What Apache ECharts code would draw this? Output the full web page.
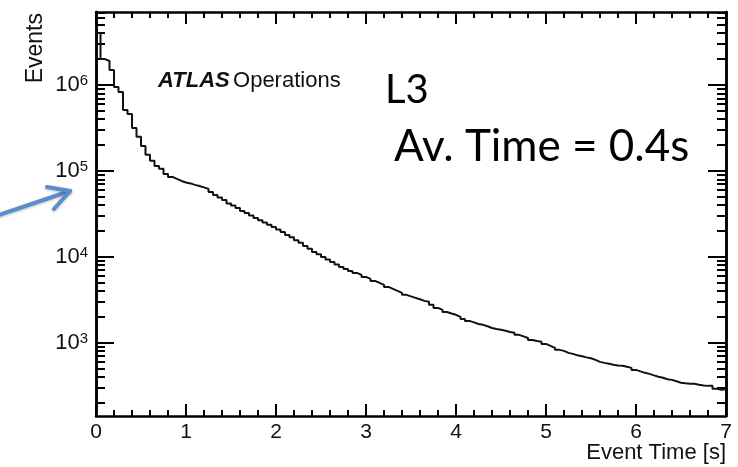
<!DOCTYPE html>
<html>
<head>
<meta charset="utf-8">
<script src="https://cdn.jsdelivr.net/npm/echarts@6/dist/echarts.min.js"></script>
<style>
  html, body { margin: 0; background: #fff; }
  #chart { width: 738px; height: 467px; }
</style>
</head>
<body>
<div id="chart"></div>
<script>
// histogram: event counts per 0.05 s bin
const binWidth = 0.05
const events = [
    4.03e6, 2.0e6, 1.90e6, 1.49e6, 9.48e5, 8.29e5, 5.12e5, 4.60e5, 3.16e5, 2.49e5,
    1.95e5, 1.54e5, 1.31e5, 1.14e5, 1.06e5, 9.23e4, 8.51e4, 8.07e4, 7.65e4, 7.35e4,
    7.16e4, 6.88e4, 6.69e4, 6.43e4, 6.18e4, 5.70e4, 5.26e4, 4.92e4, 4.60e4, 4.19e4,
    3.97e4, 3.71e4, 3.43e4, 3.25e4, 3.04e4, 2.84e4, 2.66e4, 2.52e4, 2.36e4, 2.23e4,
    2.09e4, 1.95e4, 1.80e4, 1.69e4, 1.56e4, 1.46e4, 1.34e4, 1.24e4, 1.14e4, 1.07e4,
    1.0e4, 9350, 8750, 8180, 7650, 7250, 6870, 6510, 6180, 5850,
    5550, 5260, 4990, 4730, 4480, 4250, 4030, 3820, 3620, 3470,
    3340, 3210, 3080, 3000, 2770, 2550, 2420, 2290, 2200, 2120,
    2010, 1900, 1800, 1730, 1660, 1620, 1560, 1490, 1450, 1420,
    1380, 1340, 1310, 1240, 1190, 1140, 1080, 1050, 1030, 973,
    923, 875, 829, 807, 765, 745, 716, 697, 678, 661,
    634, 601, 585, 570, 555, 547, 541, 526, 512, 485,
    466, 448, 436, 419, 403, 392, 377, 371, 357, 343,
    338, 334, 334, 325, 320, 316, 316, 292, 284, 288,
]
const xMin = 0
const xMax = 7
const yMin = 141
const yMax = 7.06e6
const yMajorTicks = [1e3, 1e4, 1e5, 1e6]
const yMinorTicks = [
    200, 300, 400, 500, 600, 700, 800, 900,
    2e3, 3e3, 4e3, 5e3, 6e3, 7e3, 8e3, 9e3,
    2e4, 3e4, 4e4, 5e4, 6e4, 7e4, 8e4, 9e4,
    2e5, 3e5, 4e5, 5e5, 6e5, 7e5, 8e5, 9e5,
    2e6, 3e6, 4e6, 5e6, 6e6, 7e6,
]

const FONT = '"Liberation Sans", Arial, sans-serif'
const INK = '#111'

const histData = events.map((v, i) => [i * binWidth, v])
histData.push([xMax, events[events.length - 1]])

function yAxis(position, ticks, length, withLabels) {
    return {
        type: 'log',
        position: position,
        min: yMin,
        max: yMax,
        axisLine: { show: true, lineStyle: { color: '#000', width: 2.5 } },
        axisTick: {
            show: true,
            inside: true,
            length: length,
            customValues: ticks,
            lineStyle: { color: '#000', width: 2 },
        },
        axisLabel: withLabels
            ? {
                customValues: yMajorTicks,
                margin: 8,
                formatter: v => '{b|10}{e|' + Math.round(Math.log10(v)) + '}',
                rich: {
                    b: { fontFamily: FONT, fontSize: 22, color: INK, lineHeight: 24 },
                    e: { fontFamily: FONT, fontSize: 15, color: INK, verticalAlign: 'top', lineHeight: 24 },
                },
            }
            : { show: false },
        splitLine: { show: false },
        minorTick: { show: false },
    }
}

function xAxis(position, withLabels) {
    return {
        type: 'value',
        position: position,
        min: xMin,
        max: xMax,
        interval: 1,
        axisLine: { show: true, lineStyle: { color: '#000', width: 2.5 } },
        axisTick: { show: true, inside: true, length: 12, lineStyle: { color: '#000', width: 2 } },
        minorTick: { show: true, splitNumber: 5, length: 6, lineStyle: { color: '#000', width: 2 } },
        axisLabel: withLabels
            ? { margin: 6, fontFamily: FONT, fontSize: 21, color: INK }
            : { show: false },
        splitLine: { show: false },
    }
}

const chart = echarts.init(document.getElementById('chart'))
chart.setOption({
    animation: false,
    backgroundColor: '#fff',
    grid: { left: 96, right: 12, top: 12, bottom: 51, outerBoundsMode: 'none' },
    xAxis: [xAxis('bottom', true), xAxis('top', false)],
    yAxis: [
        yAxis('left', yMajorTicks, 18, true),
        yAxis('left', yMinorTicks, 9, false),
        yAxis('right', yMajorTicks, 18, false),
        yAxis('right', yMinorTicks, 9, false),
    ],
    series: [
        {
            type: 'line',
            step: 'end',
            data: histData,
            symbol: 'none',
            lineStyle: { color: INK, width: 2 },
        },
    ],
    graphic: [
        {
            type: 'text',
            x: 36,
            y: 13,
            rotation: Math.PI / 2,
            style: { text: 'Events', font: '23px ' + FONT, fill: INK, align: 'right', verticalAlign: 'middle' },
        },
        {
            type: 'text',
            x: 726,
            y: 453,
            style: { text: 'Event Time [s]', font: '22px ' + FONT, fill: INK, align: 'right', verticalAlign: 'middle' },
        },
        {
            type: 'text',
            x: 158,
            y: 81,
            style: {
                text: '{a|ATLAS} {o|Operations}',
                verticalAlign: 'middle',
                rich: {
                    a: { font: 'italic bold 22px ' + FONT, fill: INK },
                    o: { font: '22px ' + FONT, fill: INK },
                },
            },
        },
        {
            type: 'text',
            x: 385,
            y: 90,
            style: { text: 'L3', font: '40px Lato, sans-serif', fill: '#000', verticalAlign: 'middle' },
        },
        {
            type: 'text',
            x: 394,
            y: 147,
            style: { text: 'Av. Time = 0.4s', font: '44px Lato, sans-serif', fill: '#000', verticalAlign: 'middle' },
        },
        // blue annotation arrow
        {
            type: 'polyline',
            shape: { points: [[-4, 216], [70, 191]] },
            style: { stroke: '#5b8dc9', lineWidth: 4, lineCap: 'round', shadowBlur: 3, shadowColor: 'rgba(0,0,0,0.25)', shadowOffsetY: 1 },
        },
        {
            type: 'polyline',
            shape: { points: [[47, 187], [70, 191], [54, 209]] },
            style: { stroke: '#5b8dc9', lineWidth: 4, lineCap: 'round', lineJoin: 'round', fill: null, shadowBlur: 3, shadowColor: 'rgba(0,0,0,0.25)', shadowOffsetY: 1 },
        },
    ],
})
</script>
</body>
</html>
